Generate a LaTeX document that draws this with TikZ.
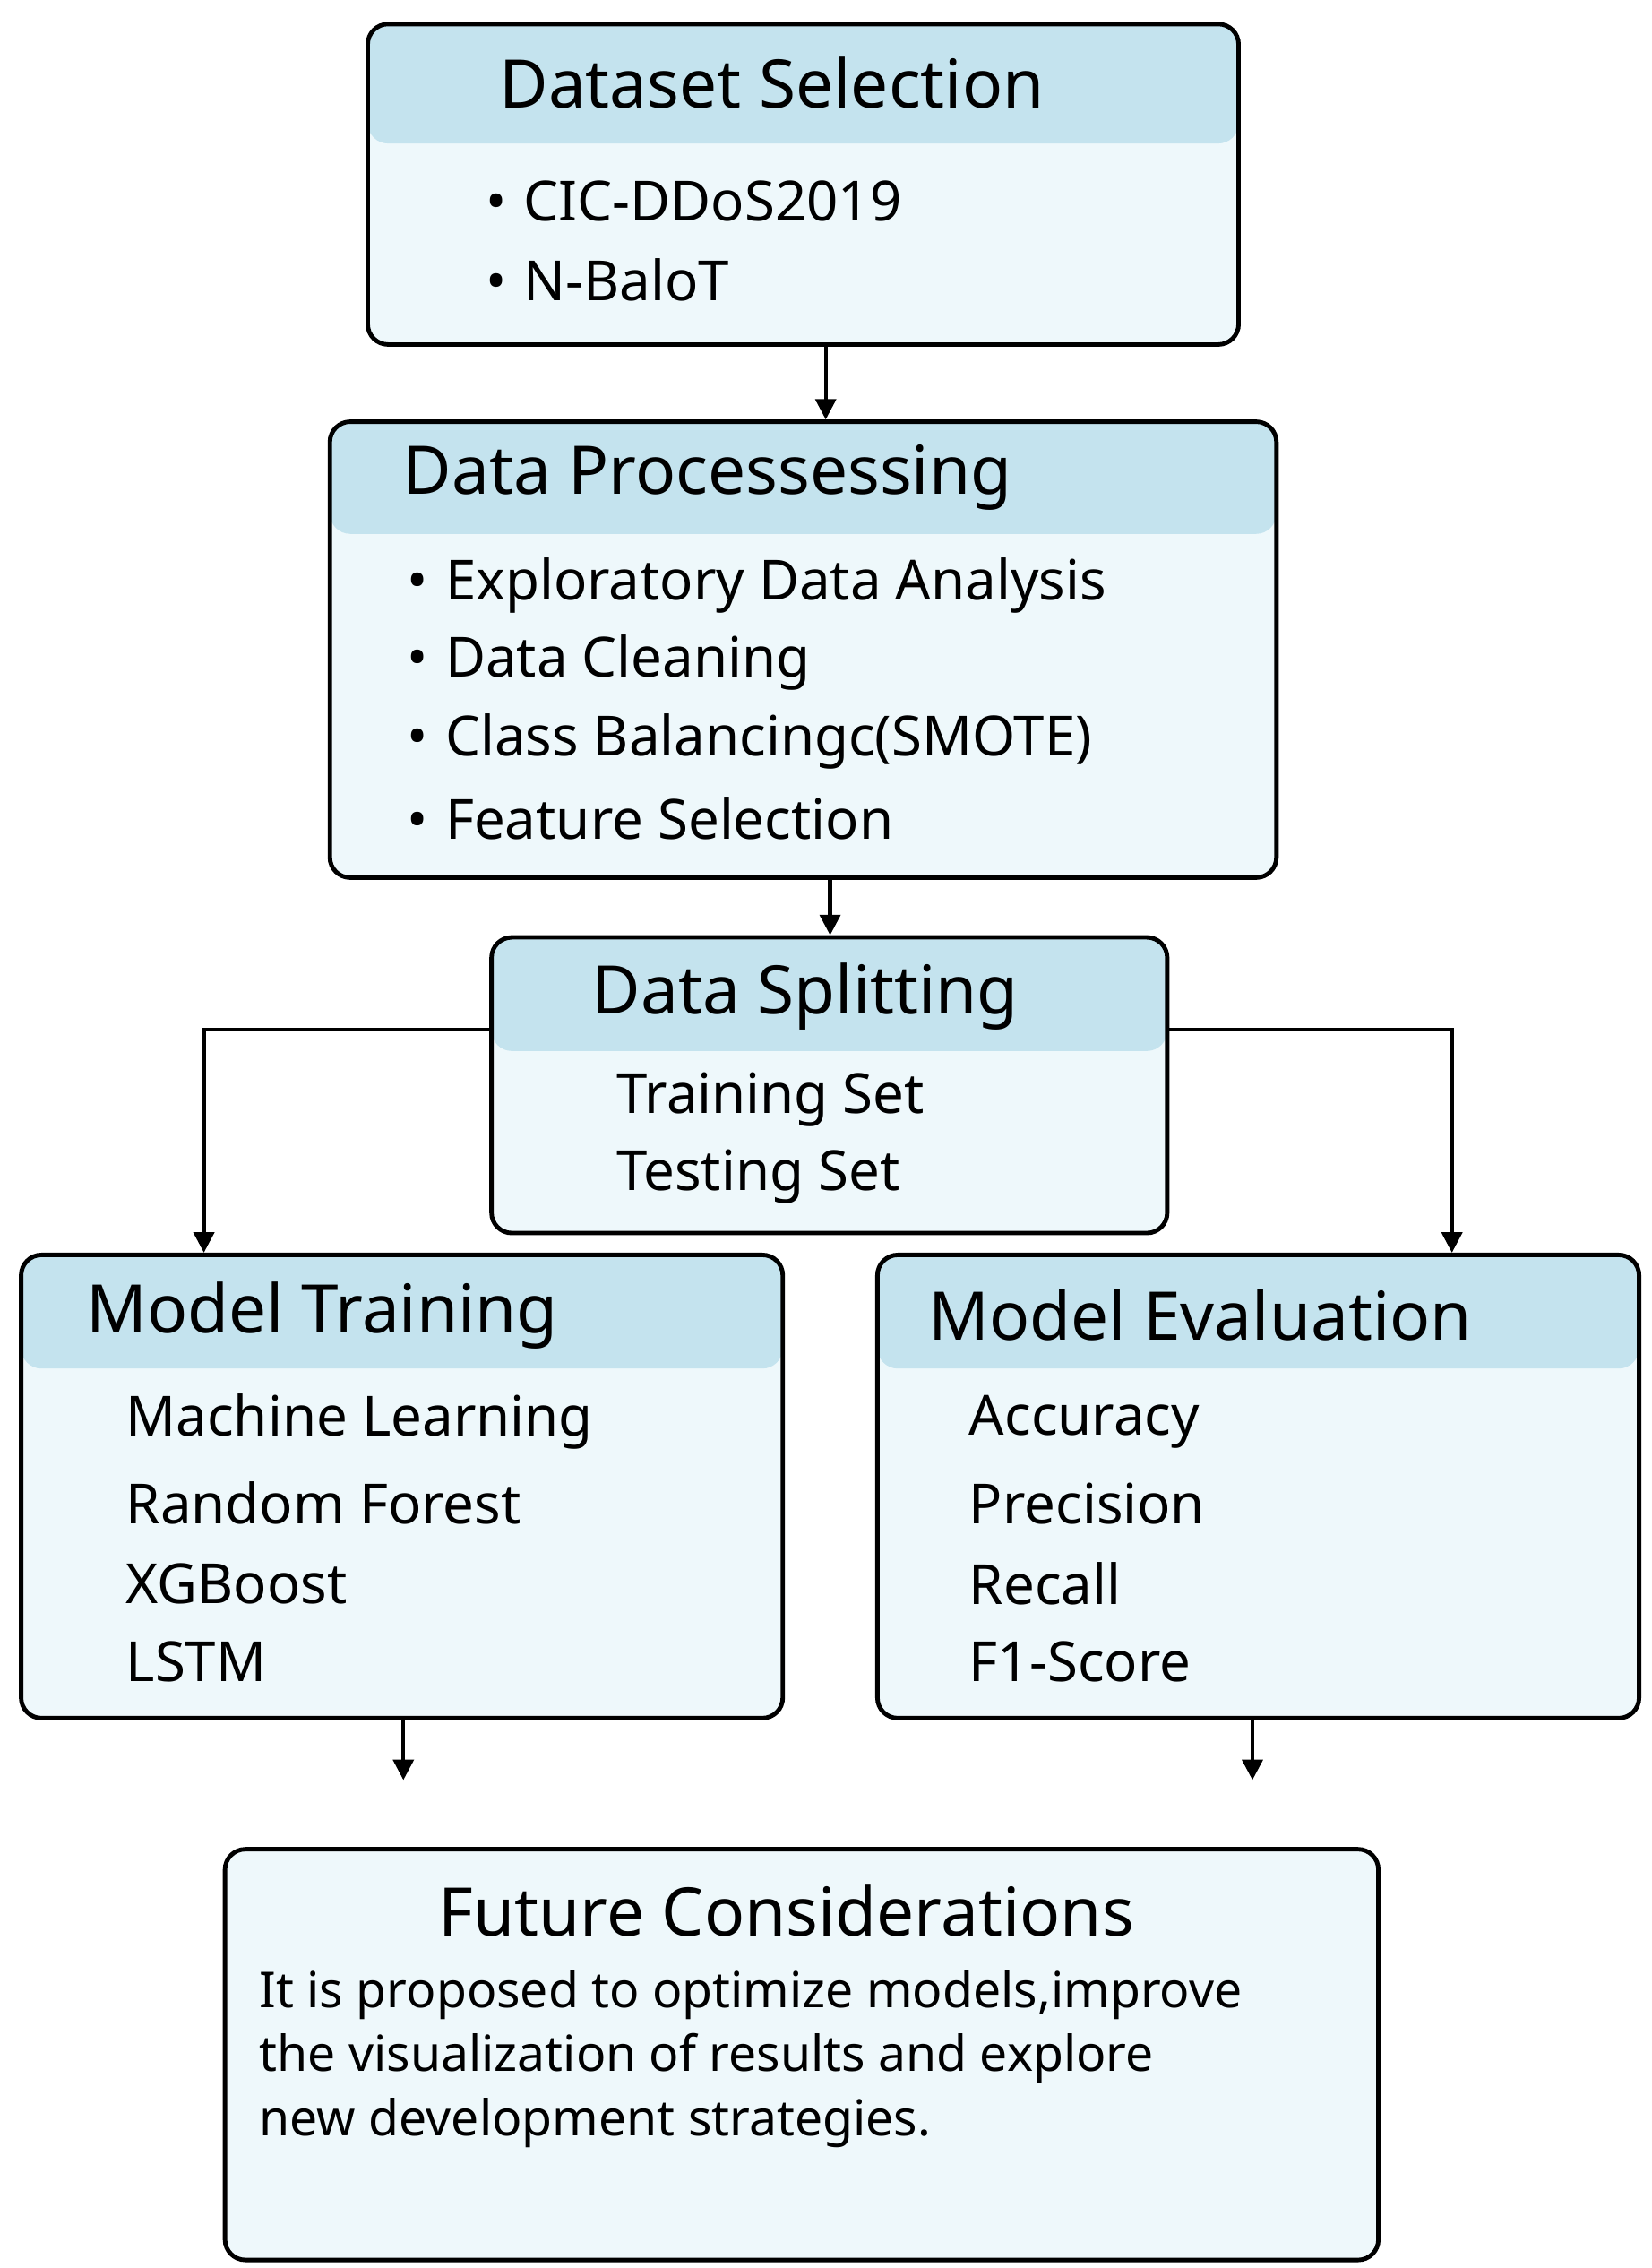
\documentclass[tikz,border=0pt]{standalone}
\usepackage{fontspec}
\setmainfont{Noto Sans}
\usetikzlibrary{arrows.meta}
\definecolor{hdr}{HTML}{C4E3EE}
\definecolor{bdy}{HTML}{EEF8FB}
\begin{document}
\begin{tikzpicture}[x=1pt,y=-1pt,
  box/.style 2 args={draw=black,line width=3pt,rounded corners=14pt,fill=bdy,
    minimum width=#1,minimum height=#2,anchor=north west,inner sep=0pt},
  hd/.style={path picture={\fill[hdr] (path picture bounding box.north west) rectangle ([yshift=-\hh pt]path picture bounding box.north east);}},
  ttl/.style={font=\fontsize{46}{50}\selectfont\bfseries,anchor=west},
  itm/.style={font=\fontsize{38}{42}\selectfont,anchor=west},
  arr/.style={line width=2.6pt,-{Triangle[length=14pt,width=14pt]}},
  ln/.style={line width=2.6pt}]
\useasboundingbox (0,0) rectangle (1134,1557);
\def\hh{82}
\node[box={598pt}{220pt},hd] (ds) at (251,15) {};
\def\hh{77}
\node[box={650pt}{313pt},hd] (dp) at (225,288) {};
\def\hh{78}
\node[box={464pt}{203pt},hd] (sp) at (336,642) {};
\node[box={523pt}{318pt},hd] (mt) at (13,860) {};
\node[box={523pt}{318pt},hd] (me) at (601,860) {};
\node[box={792pt}{282pt},fill=bdy] (fc) at (153,1268) {};
% texts
\node[ttl,anchor=center] (t1) at (530,57) {Dataset Selection};
\node[itm] (a1) at (330,138) {•\hspace{12pt}CIC-DDoS2019};
\node[itm] (a2) at (330,192) {•\hspace{12pt}N-BaloT};
\node[ttl] (t2) at (273,328) {Data Processessing};
\node[itm] (b1) at (276,402) {•\hspace{12pt}Exploratory Data Analysis};
\node[itm] (b2) at (276,455) {•\hspace{12pt}Data Cleaning};
\node[itm] (b3) at (276,509) {•\hspace{12pt}Class Balancingc(SMOTE)};
\node[itm] (b4) at (276,562) {•\hspace{12pt}Feature Selection};
\node[ttl,anchor=center] (t3) at (553,684) {Data Splitting};
\node[itm] (c1) at (420,755) {Training Set};
\node[itm] (c2) at (420,808) {Testing Set};
\node[ttl] (t4) at (56,903) {Model Training};
\node[itm,font=\fontsize{38}{42}\selectfont\bfseries] (d1) at (83,976) {Machine Learning};
\node[itm] (d2) at (83,1032) {Random Forest};
\node[itm] (d3) at (83,1087) {XGBoost};
\node[itm] (d4) at (83,1141) {LSTM};
\node[ttl] (t5) at (634,903) {Model Evaluation};
\node[itm] (e1) at (662,976) {Accuracy};
\node[itm] (e2) at (662,1032) {Precision};
\node[itm] (e3) at (662,1087) {Recall};
\node[itm] (e4) at (662,1141) {F1-Score};
\node[ttl,anchor=center] (t6) at (540,1312) {Future Considerations};
\node[anchor=north west,align=left,inner sep=0pt,font=\fontsize{34}{44}\selectfont] (f1) at (178,1352)
 {It is proposed to optimize models,improve\\the visualization of results and explore\\new development strategies.};
% connectors
\draw[arr] (ds.south -| 567,0) -- (dp.north -| 567,0);
\draw[arr] (dp.south -| 570,0) -- (sp.north -| 570,0);
\draw[arr] (sp.west |- 0,707) -| (mt.north -| 140,0);
\draw[arr] (sp.east |- 0,707) -| (me.north -| 997,0);
\coordinate (m1) at (277,1222);
\coordinate (m2) at (860,1222);
\draw[arr] (mt.south -| m1) -- (m1);
\draw[arr] (me.south -| m2) -- (m2);
\end{tikzpicture}
\end{document}
